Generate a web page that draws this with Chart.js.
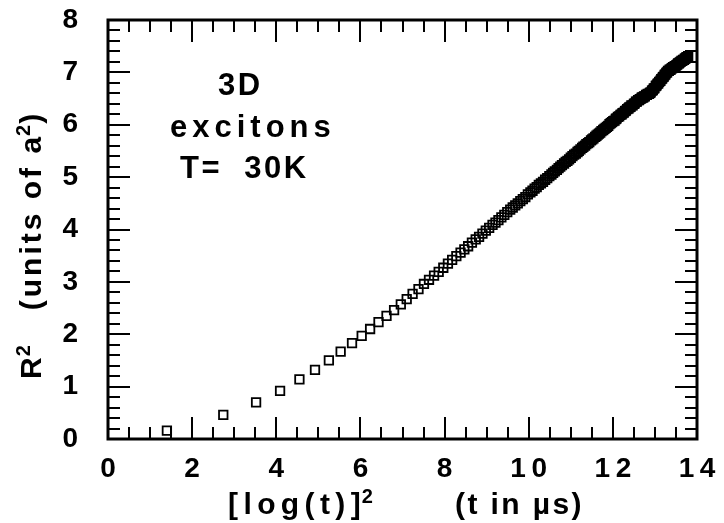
<!DOCTYPE html>
<html>
<head>
<meta charset="utf-8">
<script src="https://cdn.jsdelivr.net/npm/chart.js@4/dist/chart.umd.min.js"></script>
<style>
  html, body { margin: 0; padding: 0; background: #fff; }
  #wrap { width: 724px; height: 523px; }
</style>
</head>
<body>
<div id="wrap"><canvas id="c" width="724" height="523"></canvas></div>
<script>
// Mean-square displacement of 3D excitons at T = 30 K versus [log(t)]^2

// x values: [log(t)]^2 with t in microseconds
const logT2 = [
  1.40, 2.74, 3.52, 4.09, 4.55, 4.92, 5.25, 5.53, 5.80, 6.03, 6.23, 6.43, 6.62, 6.80, 6.96, 7.10, 7.24, 7.38, 7.51,
  7.63, 7.75, 7.86, 7.97, 8.08, 8.18, 8.28, 8.38, 8.47, 8.56, 8.65, 8.74, 8.82, 8.90, 8.98,
  9.06, 9.14, 9.21, 9.28, 9.35, 9.42, 9.49, 9.56, 9.62, 9.68, 9.74, 9.80, 9.86, 9.92, 9.98,
  10.04, 10.09, 10.14, 10.19, 10.24, 10.29, 10.34, 10.39, 10.44, 10.49, 10.54, 10.58, 10.62, 10.67, 10.71, 10.75, 10.79, 10.84, 10.88, 10.92, 10.96,
  11.00, 11.04, 11.08, 11.12, 11.16, 11.19, 11.23, 11.27, 11.30, 11.34, 11.37, 11.41, 11.44, 11.48, 11.51, 11.54, 11.58, 11.61, 11.64, 11.67, 11.70, 11.73, 11.77, 11.80, 11.83, 11.86, 11.89, 11.92, 11.95, 11.98,
  12.01, 12.04, 12.07, 12.09, 12.12, 12.15, 12.18, 12.21, 12.23, 12.26, 12.29, 12.31, 12.34, 12.37, 12.39, 12.42, 12.44, 12.47, 12.50, 12.52, 12.55, 12.57,
  12.60, 12.62, 12.64, 12.67, 12.69, 12.72, 12.74, 12.76, 12.79, 12.81, 12.83, 12.86, 12.88,
  12.90, 12.93, 12.95, 12.97, 12.99, 13.02, 13.04, 13.06, 13.08, 13.10, 13.13, 13.15, 13.17, 13.19, 13.21, 13.23, 13.25, 13.27, 13.29,
  13.31, 13.33, 13.35, 13.37, 13.39, 13.41, 13.43, 13.45, 13.47, 13.49, 13.51, 13.53, 13.55, 13.57, 13.59, 13.61, 13.63, 13.65, 13.67, 13.69, 13.71, 13.73, 13.75, 13.77, 13.79
];

// y values: R^2 in units of a^2
const r2 = [
  0.16, 0.46, 0.70, 0.92, 1.14, 1.32, 1.50, 1.67, 1.83, 1.97, 2.10, 2.23, 2.35, 2.46, 2.57, 2.67, 2.77, 2.86, 2.96,
  3.04, 3.12, 3.19, 3.27, 3.35, 3.42, 3.49, 3.56, 3.62, 3.68, 3.75, 3.81, 3.86, 3.92, 3.98,
  4.03, 4.09, 4.13, 4.18, 4.23, 4.28, 4.33, 4.38, 4.42, 4.46, 4.50, 4.54, 4.58, 4.62, 4.67,
  4.71, 4.74, 4.78, 4.81, 4.85, 4.88, 4.91, 4.95, 4.98, 5.02, 5.05, 5.08, 5.11, 5.14, 5.17, 5.20, 5.23, 5.26, 5.29, 5.31, 5.34,
  5.37, 5.40, 5.43, 5.45, 5.48, 5.50, 5.53, 5.56, 5.58, 5.60, 5.63, 5.65, 5.67, 5.70, 5.72, 5.74, 5.77, 5.79, 5.81, 5.83, 5.85, 5.88, 5.90, 5.92, 5.94, 5.96, 5.98, 6.01, 6.03, 6.05,
  6.07, 6.08, 6.11, 6.12, 6.15, 6.16, 6.19, 6.20, 6.22, 6.23, 6.26, 6.27, 6.30, 6.31, 6.33, 6.34, 6.37, 6.37, 6.40, 6.41, 6.44, 6.44,
  6.47, 6.47, 6.49, 6.50, 6.52, 6.52, 6.54, 6.54, 6.57, 6.57, 6.59, 6.59, 6.61,
  6.62, 6.65, 6.66, 6.69, 6.70, 6.74, 6.75, 6.78, 6.79, 6.82, 6.84, 6.87, 6.88, 6.91, 6.92, 6.95, 6.96, 6.99, 7.00,
  7.03, 7.03, 7.05, 7.05, 7.07, 7.08, 7.10, 7.10, 7.12, 7.12, 7.14, 7.15, 7.17, 7.17, 7.19, 7.20, 7.22, 7.22, 7.24, 7.24, 7.26, 7.27, 7.29, 7.29, 7.31
];

// Tick labels (two-digit values are set with a thin gap, as printed)
const xTickLabels = ['0', '2', '4', '6', '8', '1\u20090', '1\u20092', '1\u20094'];
const yTickLabels = ['0', '1', '2', '3', '4', '5', '6', '7', '8'];

const FONT = "'Liberation Sans', Arial, Helvetica, sans-serif";

// Closed frame with inward ticks on all four sides
const frameTicks = {
  id: 'frameTicks',
  afterDatasetsDraw(chart) {
    const { ctx, chartArea: a, scales: { x, y } } = chart;
    ctx.save();
    ctx.strokeStyle = '#000';
    ctx.lineWidth = 2;
    ctx.beginPath();
    for (let k = 1; k < 28; k++) {
      const v = k * 0.5;
      const px = Math.round(x.getPixelForValue(v));
      const len = (k % 4 === 0) ? 22 : 12;
      ctx.moveTo(px, a.bottom); ctx.lineTo(px, a.bottom - len);
      ctx.moveTo(px, a.top); ctx.lineTo(px, a.top + len);
    }
    for (let k = 1; k < 40; k++) {
      const v = k * 0.2;
      const py = Math.round(y.getPixelForValue(v));
      const len = (k % 5 === 0) ? 22 : 12;
      ctx.moveTo(a.left, py); ctx.lineTo(a.left + len, py);
      ctx.moveTo(a.right, py); ctx.lineTo(a.right - len, py);
    }
    ctx.stroke();
    ctx.lineWidth = 3;
    ctx.strokeRect(a.left, a.top, a.right - a.left, a.bottom - a.top);
    ctx.restore();
  }
};

// Draws a run of text pieces left to right; pieces marked sup are raised and smaller
function richText(ctx, pieces, x, y, size, spacing) {
  let cx = x;
  ctx.textAlign = 'left';
  for (const p of pieces) {
    const s = p.sup ? Math.round(size * 0.66) : size;
    ctx.font = 'bold ' + s + 'px ' + FONT;
    ctx.letterSpacing = (p.sup ? 1 : spacing) + 'px';
    const dy = p.sup ? -Math.round(size * 0.36) : 0;
    if (p.sup) cx -= spacing - 1;
    ctx.fillText(p.t, cx, y + dy);
    cx += ctx.measureText(p.t).width;
  }
}

const labelsPlugin = {
  id: 'labelsPlugin',
  afterDraw(chart) {
    const ctx = chart.ctx;
    ctx.save();
    ctx.fillStyle = '#000';
    ctx.textBaseline = 'alphabetic';
    // x title
    richText(ctx, [{ t: '[log(t)]' }, { t: '2', sup: true }], 228, 514, 30, 5.4);
    richText(ctx, [{ t: '(t in \u00B5s)' }], 455, 514, 30, 2.4);
    // y title
    ctx.save();
    ctx.translate(41, 379);
    ctx.rotate(-Math.PI / 2);
    richText(ctx, [{ t: 'R' }, { t: '2', sup: true }, { t: '   (units of a' }, { t: '2', sup: true }, { t: ')' }], 0, 0, 30, 3.0);
    ctx.restore();
    // caption
    richText(ctx, [{ t: '3D' }], 218, 95, 31, 2.5);
    richText(ctx, [{ t: 'excitons' }], 170, 137, 31, 5);
    richText(ctx, [{ t: 'T=  30K' }], 180, 178, 31, 2.5);
    ctx.restore();
  }
};

const points = logT2.map((v, i) => ({ x: v, y: r2[i] }));

new Chart(document.getElementById('c'), {
  type: 'scatter',
  data: {
    datasets: [{
      data: points,
      pointStyle: 'rect',
      pointRadius: 6,
      borderWidth: 1.8,
      borderColor: '#000',
      backgroundColor: 'rgba(0,0,0,0)',
      showLine: false
    }]
  },
  options: {
    responsive: false,
    animation: false,
    events: [],
    layout: { padding: { top: 20, right: 27, left: 0, bottom: 0 } },
    plugins: { legend: { display: false }, tooltip: { enabled: false } },
    scales: {
      x: {
        type: 'linear',
        min: 0, max: 14,
        grid: { display: false, drawTicks: false },
        border: { display: false },
        afterFit(scale) {
          scale.height = 84;
          scale.paddingLeft = 0; scale.paddingRight = 0;
        },
        ticks: {
          stepSize: 2,
          maxRotation: 0,
          autoSkip: false,
          padding: 13,
          color: '#000',
          font: { family: FONT, size: 28, weight: 'bold' },
          callback: (v) => xTickLabels[Math.round(v / 2)]
        }
      },
      y: {
        type: 'linear',
        min: 0, max: 8,
        grid: { display: false, drawTicks: false },
        border: { display: false },
        afterFit(scale) {
          scale.width = 108;
          scale.paddingTop = 0; scale.paddingBottom = 0;
        },
        ticks: {
          stepSize: 1,
          autoSkip: false,
          padding: 30,
          color: '#000',
          font: { family: FONT, size: 28, weight: 'bold' },
          callback: (v) => yTickLabels[Math.round(v)]
        }
      }
    }
  },
  plugins: [frameTicks, labelsPlugin]
});
</script>
</body>
</html>
